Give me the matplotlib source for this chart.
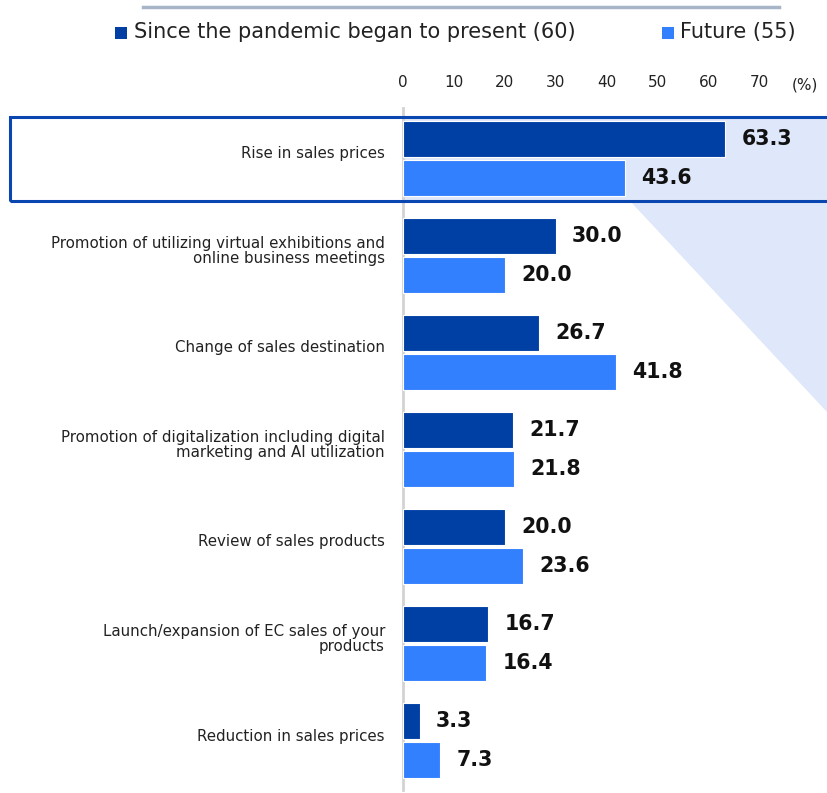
import matplotlib
matplotlib.use("Agg")
import matplotlib.pyplot as plt
from matplotlib.patches import Rectangle, Polygon
from matplotlib.lines import Line2D
from matplotlib.transforms import ScaledTranslation
import numpy as np

categories = [
    "Rise in sales prices",
    "Promotion of utilizing virtual exhibitions and\nonline business meetings",
    "Change of sales destination",
    "Promotion of digitalization including digital\nmarketing and AI utilization",
    "Review of sales products",
    "Launch/expansion of EC sales of your\nproducts",
    "Reduction in sales prices",
]
since_pandemic = [63.3, 30.0, 26.7, 21.7, 20.0, 16.7, 3.3]
future = [43.6, 20.0, 41.8, 21.8, 23.6, 16.4, 7.3]
series_names = ["Since the pandemic began to present (60)", "Future (55)"]
xticks = [0, 10, 20, 30, 40, 50, 60, 70]

DARK = "#003FA3"
LIGHT = "#3380FF"
W, H = 827, 793

fig = plt.figure(figsize=(W / 100, H / 100), dpi=100)

def fx(px):
    return px / W

def fy(py):
    return 1 - py / H

# decorations in figure coords
fig.patches.append(Polygon(
    [(fx(404), fy(118)), (fx(827), fy(118)), (fx(827), fy(412)),
     (fx(630), fy(201)), (fx(404), fy(201))],
    closed=True, transform=fig.transFigure, facecolor="#DEE8FA",
    edgecolor="none", zorder=-2))
fig.add_artist(Line2D([fx(143), fx(779)], [fy(7), fy(7)], color="#A8B4C8",
                      linewidth=2.5, transform=fig.transFigure))

ax_left, ax_top, ax_bottom = 403, 108, 790
ax = fig.add_axes([fx(ax_left), fy(ax_bottom), 1 - fx(ax_left),
                   (ax_bottom - ax_top) / H])
ax.patch.set_alpha(0)
ax.set_zorder(1)

n = len(categories)
y = np.arange(n)
bh = 0.37
off = 0.2
ax.barh(y - off, since_pandemic, height=bh, color=DARK, edgecolor="white",
        linewidth=0.8, zorder=3)
ax.barh(y + off, future, height=bh, color=LIGHT, edgecolor="white",
        linewidth=0.8, zorder=3)

for yi, v in zip(y - off, since_pandemic):
    ax.text(v + 3.2, yi, f"{v:.1f}", va="center", ha="left", fontsize=14.8,
            fontweight="bold", color="#111111", zorder=4)
for yi, v in zip(y + off, future):
    ax.text(v + 3.2, yi, f"{v:.1f}", va="center", ha="left", fontsize=14.8,
            fontweight="bold", color="#111111", zorder=4)

xmax = (827 - 403) / 5.09
ax.set_xlim(0, xmax)
ax.set_ylim(6.51, -0.52)
ax.set_xticks(xticks)
ax.set_xticklabels([str(t) for t in xticks])
ax.xaxis.tick_top()
ax.tick_params(axis="x", length=0, pad=13, labelsize=11, labelcolor="#222222")
ax.set_yticks(y)
ax.set_yticklabels(categories, fontsize=10.8, color="#222222",
                   linespacing=1.0)
ax.tick_params(axis="y", length=0, pad=13)
shift = ScaledTranslation(0, 6 / 100, fig.dpi_scale_trans)
for lab in ax.get_yticklabels():
    lab.set_transform(lab.get_transform() + shift)
for s in ["top", "right", "bottom"]:
    ax.spines[s].set_visible(False)
ax.spines["left"].set_color("#D3D3D3")
ax.spines["left"].set_linewidth(2)

fig.text(fx(805), fy(85), "(%)", ha="center", va="center", fontsize=11,
         color="#222222")

# highlight box
fig.add_artist(Rectangle((fx(10), fy(201)), fx(830) - fx(10),
                         (201 - 117) / H, transform=fig.transFigure,
                         fill=False, edgecolor="#0A46B0", linewidth=2.2,
                         zorder=5, clip_on=False))

# legend
fig.patches.append(Rectangle((fx(115), fy(39)), fx(12), 12 / H,
                             transform=fig.transFigure, facecolor=DARK,
                             edgecolor="none"))
fig.text(fx(134), fy(32), series_names[0], ha="left", va="center",
         fontsize=15, color="#222222")
fig.patches.append(Rectangle((fx(662), fy(39)), fx(12), 12 / H,
                             transform=fig.transFigure, facecolor=LIGHT,
                             edgecolor="none"))
fig.text(fx(680), fy(32), series_names[1], ha="left", va="center",
         fontsize=15, color="#222222")

fig.savefig("out.png", dpi=100)
